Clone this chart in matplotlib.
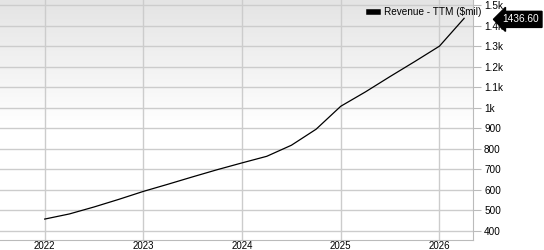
import numpy as np
import matplotlib.pyplot as plt
from matplotlib.colors import LinearSegmentedColormap

plt.rcParams['font.family'] = ['Liberation Sans', 'DejaVu Sans']

# quarterly trailing-twelve-month revenue, $mil
quarters = [2022.0, 2022.25, 2022.5, 2022.75, 2023.0, 2023.25, 2023.5, 2023.75,
            2024.0, 2024.25, 2024.5, 2024.75, 2025.0, 2025.25, 2025.5, 2025.75,
            2026.0, 2026.25]
revenue = [458, 483, 517, 554, 593, 628, 664, 699,
           732, 764, 818, 896, 1008, 1078, 1153, 1226,
           1301, 1436.60]
year_ticks = [2022, 2023, 2024, 2025, 2026]
y_ticks = [400, 500, 600, 700, 800, 900, 1000, 1100, 1200, 1300, 1400, 1500]
y_labels = ['400', '500', '600', '700', '800', '900', '1k', '1.1k', '1.2k', '1.3k', '1.4k', '1.5k']

fig = plt.figure(figsize=(5.44, 2.5), dpi=100)
ax = fig.add_axes([0, 0.04, 473 / 544, 0.96])

# background gradient, grey at top fading to white
grad = np.linspace(0, 1, 256).reshape(-1, 1)
cmap = LinearSegmentedColormap.from_list('bg', [(0, '#ffffff'), (0.48, '#ffffff'), (1, '#e4e4e4')])
ax.imshow(grad, cmap=cmap, aspect='auto', extent=[0, 1, 0, 1],
          transform=ax.transAxes, origin='lower', zorder=0)

ax.plot(quarters, revenue, color='black', lw=0.9, zorder=3, label='Revenue - TTM ($mil)')

ax.set_xlim(2021.547, 2026.34)
ax.set_ylim(356, 1526)
ax.set_xticks(year_ticks)
ax.set_xticklabels([str(y) for y in year_ticks])
ax.set_yticks(y_ticks)
ax.set_yticklabels(y_labels)
ax.yaxis.tick_right()
ax.grid(True, color='#cccccc', lw=1, zorder=1)
ax.tick_params(axis='y', length=6, color='#bbbbbb', labelsize=7.2, pad=2)
ax.tick_params(axis='x', length=0, labelsize=7.0, pad=0.5)
for side in ['top', 'left']:
    ax.spines[side].set_visible(False)
for side in ['right', 'bottom']:
    ax.spines[side].set_color('#bbbbbb')

leg = ax.legend(loc='upper right', bbox_to_anchor=(1.03, 0.995), frameon=False,
                fontsize=7.2, handlelength=0.9, handleheight=0.5, borderaxespad=0.2,
                handletextpad=0.6)
for h in leg.legend_handles:
    h.set_linewidth(4)

ax.annotate('1436.60', xy=(1.0, revenue[-1]), xycoords=('axes fraction', 'data'),
            xytext=(1.062, revenue[-1] - 5), textcoords=('axes fraction', 'data'),
            ha='left', va='center', color='white', fontsize=7.3, zorder=5,
            bbox=dict(boxstyle='larrow,pad=0.3', fc='black', ec='black'),
            annotation_clip=False)

fig.savefig('out.png', dpi=100)
